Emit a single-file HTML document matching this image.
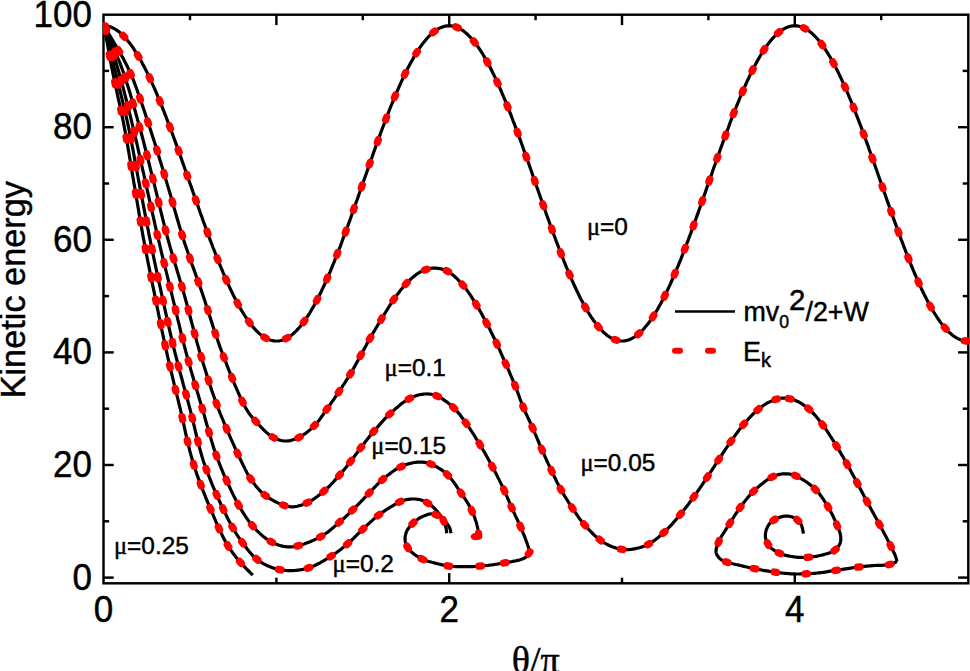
<!DOCTYPE html>
<html><head><meta charset="utf-8"><title>chart</title>
<style>
html,body{margin:0;padding:0;background:#fff;}
body{width:970px;height:671px;overflow:hidden;position:relative;font-family:"Liberation Sans",sans-serif;}
svg{position:absolute;left:0;top:0;display:block}
.k{fill:none;stroke:#000;stroke-width:3.2;stroke-linejoin:round;stroke-linecap:butt}
.r{fill:none;stroke:#ff0000;stroke-width:7.3;stroke-linecap:round}
.ax line,.ax rect{stroke:#000;stroke-width:2.45;fill:none}
text{font-family:"Liberation Sans",sans-serif;fill:#000;stroke:#000;stroke-width:0.45px}
.t32{font-size:35px}
.t21{font-size:24.4px}
.sym{font-family:"Liberation Serif",serif}
</style></head><body>
<svg width="970" height="671" viewBox="0 0 970 671">
<rect x="0" y="0" width="970" height="671" fill="#fff"/>
<g class="ax">
<rect x="103.5" y="14.7" width="864.8" height="568.6"/>
<line x1="190.0" y1="14.7" x2="190.0" y2="20.2"/>
<line x1="276.4" y1="14.7" x2="276.4" y2="25.1"/>
<line x1="276.4" y1="583.3" x2="276.4" y2="577.7"/>
<line x1="362.8" y1="14.7" x2="362.8" y2="20.2"/>
<line x1="449.2" y1="14.7" x2="449.2" y2="25.1"/>
<line x1="449.2" y1="583.3" x2="449.2" y2="573.1"/>
<line x1="535.6" y1="14.7" x2="535.6" y2="20.2"/>
<line x1="622.0" y1="14.7" x2="622.0" y2="25.1"/>
<line x1="622.0" y1="583.3" x2="622.0" y2="577.7"/>
<line x1="708.4" y1="14.7" x2="708.4" y2="20.2"/>
<line x1="794.8" y1="14.7" x2="794.8" y2="25.1"/>
<line x1="794.8" y1="583.3" x2="794.8" y2="573.1"/>
<line x1="881.2" y1="14.7" x2="881.2" y2="20.2"/>
<line x1="103.5" y1="577.6" x2="113.7" y2="577.6"/>
<line x1="968.3" y1="577.6" x2="958.1" y2="577.6"/>
<line x1="103.5" y1="521.3" x2="109.1" y2="521.3"/>
<line x1="968.3" y1="521.3" x2="962.7" y2="521.3"/>
<line x1="103.5" y1="465.0" x2="113.7" y2="465.0"/>
<line x1="968.3" y1="465.0" x2="958.1" y2="465.0"/>
<line x1="103.5" y1="408.7" x2="109.1" y2="408.7"/>
<line x1="968.3" y1="408.7" x2="962.7" y2="408.7"/>
<line x1="103.5" y1="352.4" x2="113.7" y2="352.4"/>
<line x1="968.3" y1="352.4" x2="958.1" y2="352.4"/>
<line x1="103.5" y1="296.1" x2="109.1" y2="296.1"/>
<line x1="968.3" y1="296.1" x2="962.7" y2="296.1"/>
<line x1="103.5" y1="239.8" x2="113.7" y2="239.8"/>
<line x1="968.3" y1="239.8" x2="958.1" y2="239.8"/>
<line x1="103.5" y1="183.5" x2="109.1" y2="183.5"/>
<line x1="968.3" y1="183.5" x2="962.7" y2="183.5"/>
<line x1="103.5" y1="127.2" x2="113.7" y2="127.2"/>
<line x1="968.3" y1="127.2" x2="958.1" y2="127.2"/>
<line x1="103.5" y1="70.9" x2="109.1" y2="70.9"/>
<line x1="968.3" y1="70.9" x2="962.7" y2="70.9"/>
</g>
<defs><clipPath id="cp"><rect x="102.9" y="14.7" width="868.0" height="568.6"/></clipPath></defs>
<g clip-path="url(#cp)">
<path d="M103.6 25.8 L105.0 25.8 L106.5 26.0 L107.9 26.2 L109.4 26.6 L110.8 27.1 L112.3 27.7 L113.7 28.4 L115.1 29.2 L116.6 30.1 L118.0 31.1 L119.5 32.3 L120.9 33.5 L122.4 34.8 L123.8 36.3 L125.2 37.8 L126.7 39.4 L128.1 41.2 L129.6 43.0 L131.0 44.9 L132.4 46.9 L133.9 49.1 L135.3 51.3 L136.8 53.6 L138.2 56.0 L139.7 58.4 L141.1 61.0 L142.5 63.7 L144.0 66.4 L145.4 69.2 L146.9 72.1 L148.3 75.0 L149.8 78.1 L151.2 81.2 L152.6 84.4 L154.1 87.6 L155.5 90.9 L157.0 94.3 L158.4 97.8 L159.9 101.3 L161.3 104.8 L162.7 108.4 L164.2 112.1 L165.6 115.8 L167.1 119.6 L168.5 123.4 L170.0 127.2 L171.4 131.1 L172.8 135.0 L174.3 139.0 L175.7 142.9 L177.2 146.9 L178.6 151.0 L180.0 155.0 L181.5 159.1 L182.9 163.2 L184.4 167.3 L185.8 171.4 L187.3 175.5 L188.7 179.7 L190.1 183.8 L191.6 187.9 L193.0 192.1 L194.5 196.2 L195.9 200.3 L197.4 204.4 L198.8 208.5 L200.2 212.6 L201.7 216.6 L203.1 220.7 L204.6 224.7 L206.0 228.6 L207.5 232.6 L208.9 236.5 L210.3 240.4 L211.8 244.2 L213.2 248.0 L214.7 251.7 L216.1 255.4 L217.5 259.1 L219.0 262.7 L220.4 266.2 L221.9 269.7 L223.3 273.2 L224.8 276.5 L226.2 279.8 L227.6 283.1 L229.1 286.2 L230.5 289.3 L232.0 292.4 L233.4 295.3 L234.9 298.2 L236.3 301.0 L237.7 303.7 L239.2 306.3 L240.6 308.9 L242.1 311.3 L243.5 313.7 L245.0 316.0 L246.4 318.2 L247.8 320.3 L249.3 322.3 L250.7 324.2 L252.2 326.0 L253.6 327.7 L255.1 329.3 L256.5 330.8 L257.9 332.2 L259.4 333.6 L260.8 334.8 L262.3 335.9 L263.7 336.9 L265.1 337.8 L266.6 338.5 L268.0 339.2 L269.5 339.8 L270.9 340.3 L272.4 340.6 L273.8 340.9 L275.2 341.0 L276.7 341.0 L278.1 341.0 L279.6 340.8 L281.0 340.5 L282.5 340.1 L283.9 339.6 L285.3 339.0 L286.8 338.2 L288.2 337.4 L289.7 336.5 L291.1 335.4 L292.6 334.3 L294.0 333.0 L295.4 331.7 L296.9 330.2 L298.3 328.7 L299.8 327.0 L301.2 325.3 L302.7 323.4 L304.1 321.5 L305.5 319.4 L307.0 317.3 L308.4 315.1 L309.9 312.8 L311.3 310.3 L312.7 307.9 L314.2 305.3 L315.6 302.6 L317.1 299.9 L318.5 297.0 L320.0 294.1 L321.4 291.2 L322.8 288.1 L324.3 285.0 L325.7 281.8 L327.2 278.5 L328.6 275.2 L330.1 271.8 L331.5 268.3 L332.9 264.8 L334.4 261.3 L335.8 257.6 L337.3 254.0 L338.7 250.3 L340.2 246.5 L341.6 242.7 L343.0 238.8 L344.5 234.9 L345.9 231.0 L347.4 227.1 L348.8 223.1 L350.3 219.1 L351.7 215.0 L353.1 211.0 L354.6 206.9 L356.0 202.8 L357.5 198.7 L358.9 194.6 L360.3 190.4 L361.8 186.3 L363.2 182.2 L364.7 178.0 L366.1 173.9 L367.6 169.8 L369.0 165.7 L370.4 161.6 L371.9 157.5 L373.3 153.4 L374.8 149.4 L376.2 145.3 L377.7 141.3 L379.1 137.4 L380.5 133.4 L382.0 129.5 L383.4 125.7 L384.9 121.8 L386.3 118.1 L387.8 114.3 L389.2 110.6 L390.6 107.0 L392.1 103.4 L393.5 99.9 L395.0 96.4 L396.4 93.0 L397.9 89.6 L399.3 86.3 L400.7 83.1 L402.2 79.9 L403.6 76.9 L405.1 73.8 L406.5 70.9 L407.9 68.1 L409.4 65.3 L410.8 62.6 L412.3 60.0 L413.7 57.4 L415.2 55.0 L416.6 52.6 L418.0 50.4 L419.5 48.2 L420.9 46.1 L422.4 44.1 L423.8 42.3 L425.3 40.5 L426.7 38.8 L428.1 37.2 L429.6 35.7 L431.0 34.3 L432.5 33.0 L433.9 31.8 L435.4 30.7 L436.8 29.8 L438.2 28.9 L439.7 28.1 L441.1 27.5 L442.6 26.9 L444.0 26.5 L445.4 26.1 L446.9 25.9 L448.3 25.8 L449.8 25.8 L451.2 25.9 L452.7 26.1 L454.1 26.4 L455.5 26.8 L457.0 27.3 L458.4 28.0 L459.9 28.7 L461.3 29.6 L462.8 30.5 L464.2 31.6 L465.6 32.8 L467.1 34.0 L468.5 35.4 L470.0 36.9 L471.4 38.4 L472.9 40.1 L474.3 41.9 L475.7 43.8 L477.2 45.7 L478.6 47.8 L480.1 49.9 L481.5 52.2 L483.0 54.5 L484.4 56.9 L485.8 59.5 L487.3 62.1 L488.7 64.7 L490.2 67.5 L491.6 70.3 L493.0 73.3 L494.5 76.2 L495.9 79.3 L497.4 82.5 L498.8 85.7 L500.3 88.9 L501.7 92.3 L503.1 95.7 L504.6 99.2 L506.0 102.7 L507.5 106.3 L508.9 109.9 L510.4 113.6 L511.8 117.3 L513.2 121.1 L514.7 124.9 L516.1 128.8 L517.6 132.6 L519.0 136.6 L520.5 140.5 L521.9 144.5 L523.3 148.6 L524.8 152.6 L526.2 156.7 L527.7 160.7 L529.1 164.8 L530.6 169.0 L532.0 173.1 L533.4 177.2 L534.9 181.3 L536.3 185.5 L537.8 189.6 L539.2 193.7 L540.6 197.8 L542.1 202.0 L543.5 206.1 L545.0 210.1 L546.4 214.2 L547.9 218.2 L549.3 222.3 L550.7 226.3 L552.2 230.2 L553.6 234.2 L555.1 238.0 L556.5 241.9 L558.0 245.7 L559.4 249.5 L560.8 253.2 L562.3 256.9 L563.7 260.5 L565.2 264.1 L566.6 267.6 L568.1 271.1 L569.5 274.5 L570.9 277.9 L572.4 281.1 L573.8 284.3 L575.3 287.5 L576.7 290.6 L578.2 293.5 L579.6 296.5 L581.0 299.3 L582.5 302.1 L583.9 304.7 L585.4 307.3 L586.8 309.9 L588.2 312.3 L589.7 314.6 L591.1 316.9 L592.6 319.0 L594.0 321.1 L595.5 323.0 L596.9 324.9 L598.3 326.7 L599.8 328.4 L601.2 329.9 L602.7 331.4 L604.1 332.8 L605.6 334.0 L607.0 335.2 L608.4 336.3 L609.9 337.2 L611.3 338.1 L612.8 338.8 L614.2 339.5 L615.7 340.0 L617.1 340.4 L618.5 340.7 L620.0 340.9 L621.4 341.0 L622.9 341.0 L624.3 340.9 L625.8 340.7 L627.2 340.3 L628.6 339.9 L630.1 339.3 L631.5 338.7 L633.0 337.9 L634.4 337.0 L635.8 336.1 L637.3 335.0 L638.7 333.8 L640.2 332.5 L641.6 331.1 L643.1 329.6 L644.5 328.0 L645.9 326.3 L647.4 324.5 L648.8 322.7 L650.3 320.7 L651.7 318.6 L653.2 316.4 L654.6 314.2 L656.0 311.8 L657.5 309.4 L658.9 306.8 L660.4 304.2 L661.8 301.5 L663.3 298.7 L664.7 295.9 L666.1 293.0 L667.6 289.9 L669.0 286.9 L670.5 283.7 L671.9 280.5 L673.3 277.2 L674.8 273.8 L676.2 270.4 L677.7 266.9 L679.1 263.4 L680.6 259.8 L682.0 256.2 L683.4 252.5 L684.9 248.7 L686.3 245.0 L687.8 241.1 L689.2 237.3 L690.7 233.4 L692.1 229.4 L693.5 225.5 L695.0 221.5 L696.4 217.4 L697.9 213.4 L699.3 209.3 L700.8 205.2 L702.2 201.1 L703.6 197.0 L705.1 192.9 L706.5 188.8 L708.0 184.6 L709.4 180.5 L710.9 176.4 L712.3 172.2 L713.7 168.1 L715.2 164.0 L716.6 159.9 L718.1 155.8 L719.5 151.8 L720.9 147.7 L722.4 143.7 L723.8 139.7 L725.3 135.8 L726.7 131.9 L728.2 128.0 L729.6 124.1 L731.0 120.3 L732.5 116.5 L733.9 112.8 L735.4 109.2 L736.8 105.5 L738.3 102.0 L739.7 98.5 L741.1 95.0 L742.6 91.6 L744.0 88.3 L745.5 85.0 L746.9 81.8 L748.4 78.7 L749.8 75.6 L751.2 72.7 L752.7 69.8 L754.1 66.9 L755.6 64.2 L757.0 61.5 L758.5 58.9 L759.9 56.5 L761.3 54.0 L762.8 51.7 L764.2 49.5 L765.7 47.4 L767.1 45.3 L768.5 43.4 L770.0 41.5 L771.4 39.8 L772.9 38.1 L774.3 36.6 L775.8 35.1 L777.2 33.8 L778.6 32.5 L780.1 31.4 L781.5 30.3 L783.0 29.4 L784.4 28.6 L785.9 27.8 L787.3 27.2 L788.7 26.7 L790.2 26.3 L791.6 26.0 L793.1 25.8 L794.5 25.8 L796.0 25.8 L797.4 25.9 L798.8 26.2 L800.3 26.5 L801.7 27.0 L803.2 27.6 L804.6 28.3 L806.1 29.0 L807.5 29.9 L808.9 30.9 L810.4 32.0 L811.8 33.2 L813.3 34.6 L814.7 36.0 L816.1 37.5 L817.6 39.1 L819.0 40.8 L820.5 42.6 L821.9 44.5 L823.4 46.5 L824.8 48.6 L826.2 50.8 L827.7 53.1 L829.1 55.5 L830.6 57.9 L832.0 60.5 L833.5 63.1 L834.9 65.8 L836.3 68.6 L837.8 71.5 L839.2 74.4 L840.7 77.5 L842.1 80.6 L843.6 83.7 L845.0 87.0 L846.4 90.3 L847.9 93.6 L849.3 97.1 L850.8 100.6 L852.2 104.1 L853.7 107.7 L855.1 111.4 L856.5 115.1 L858.0 118.8 L859.4 122.6 L860.9 126.4 L862.3 130.3 L863.7 134.2 L865.2 138.2 L866.6 142.1 L868.1 146.1 L869.5 150.2 L871.0 154.2 L872.4 158.3 L873.8 162.4 L875.3 166.5 L876.7 170.6 L878.2 174.7 L879.6 178.9 L881.1 183.0 L882.5 187.1 L883.9 191.3 L885.4 195.4 L886.8 199.5 L888.3 203.6 L889.7 207.7 L891.2 211.8 L892.6 215.8 L894.0 219.9 L895.5 223.9 L896.9 227.8 L898.4 231.8 L899.8 235.7 L901.2 239.6 L902.7 243.4 L904.1 247.2 L905.6 251.0 L907.0 254.7 L908.5 258.4 L909.9 262.0 L911.3 265.5 L912.8 269.0 L914.2 272.5 L915.7 275.9 L917.1 279.2 L918.6 282.4 L920.0 285.6 L921.4 288.7 L922.9 291.8 L924.3 294.7 L925.8 297.6 L927.2 300.4 L928.7 303.1 L930.1 305.8 L931.5 308.4 L933.0 310.8 L934.4 313.2 L935.9 315.5 L937.3 317.7 L938.8 319.9 L940.2 321.9 L941.6 323.8 L943.1 325.6 L944.5 327.4 L946.0 329.0 L947.4 330.5 L948.8 332.0 L950.3 333.3 L951.7 334.5 L953.2 335.7 L954.6 336.7 L956.1 337.6 L957.5 338.4 L958.9 339.1 L960.4 339.7 L961.8 340.2 L963.3 340.6 L964.7 340.8 L966.2 341.0 L967.6 341.0" class="k"/>
<path d="M104.1 25.8 L106.2 29.5 L108.4 33.2 L110.6 36.9 L112.8 40.5 L114.9 44.2 L117.1 47.8 L119.3 51.5 L121.4 55.3 L123.5 59.0 L125.5 62.9 L127.5 66.8 L129.3 70.8 L131.3 75.2 L133.2 79.7 L135.0 84.3 L136.7 89.0 L138.4 93.7 L140.1 98.4 L141.7 103.2 L143.3 108.0 L144.9 112.8 L146.4 117.6 L148.0 122.4 L149.6 127.1 L151.1 131.8 L152.6 136.5 L154.1 141.1 L155.6 145.8 L157.1 150.5 L158.5 155.2 L159.9 159.9 L161.4 164.6 L162.8 169.3 L164.2 174.0 L165.6 178.7 L167.0 183.4 L168.4 188.1 L169.8 192.8 L171.2 197.5 L172.5 202.2 L173.8 206.9 L175.2 211.6 L176.5 216.3 L177.9 221.0 L179.3 225.7 L180.7 230.3 L182.1 235.0 L183.6 239.7 L185.1 244.4 L186.7 249.1 L188.3 253.8 L190.0 258.5 L191.6 263.2 L193.3 267.9 L195.0 272.6 L196.6 277.2 L198.3 281.9 L200.0 286.6 L201.6 291.3 L203.2 296.0 L204.8 300.7 L206.3 305.4 L207.8 310.1 L209.3 314.8 L210.8 319.5 L212.3 324.2 L213.8 328.9 L215.4 333.6 L217.0 338.3 L218.6 343.0 L220.2 347.6 L222.0 352.3 L223.8 357.2 L225.8 362.2 L227.8 367.4 L229.9 372.7 L232.0 377.9 L234.1 383.1 L236.3 388.1 L238.4 392.9 L240.4 397.5 L242.4 401.6 L244.3 405.4 L246.1 408.6 L247.0 410.0 L247.8 411.4 L248.6 412.6 L249.3 413.7 L250.1 414.7 L250.8 415.7 L251.6 416.6 L252.3 417.5 L253.1 418.4 L254.0 419.4 L254.9 420.4 L255.8 421.4 L257.0 422.7 L258.2 424.1 L259.5 425.5 L260.9 427.0 L262.3 428.4 L263.7 429.8 L265.1 431.2 L266.6 432.6 L268.0 433.8 L269.5 435.0 L270.9 436.0 L272.3 436.9 L273.4 437.5 L274.5 438.1 L275.6 438.6 L276.7 439.1 L277.9 439.5 L279.0 439.9 L280.1 440.2 L281.2 440.5 L282.3 440.7 L283.5 440.9 L284.6 441.0 L285.7 441.0 L286.8 441.0 L287.9 440.9 L289.1 440.8 L290.2 440.6 L291.3 440.3 L292.4 440.0 L293.5 439.6 L294.7 439.2 L295.8 438.8 L296.9 438.3 L298.0 437.8 L299.1 437.3 L300.4 436.6 L301.7 435.9 L303.1 435.0 L304.4 434.1 L305.7 433.2 L307.0 432.2 L308.3 431.2 L309.6 430.1 L310.9 429.0 L312.1 427.9 L313.3 426.7 L314.5 425.6 L315.7 424.4 L316.8 423.1 L317.8 421.8 L318.9 420.5 L319.9 419.1 L320.9 417.7 L321.9 416.3 L322.9 414.9 L323.9 413.4 L324.9 412.0 L325.9 410.5 L326.9 409.1 L328.0 407.5 L329.1 406.0 L330.3 404.4 L331.4 402.7 L332.5 401.1 L333.7 399.5 L334.8 397.8 L335.9 396.2 L337.0 394.6 L338.1 392.9 L339.2 391.4 L340.2 389.8 L341.1 388.4 L342.0 387.1 L342.9 385.7 L343.8 384.4 L344.6 383.1 L345.5 381.8 L346.3 380.4 L347.2 379.1 L348.0 377.8 L348.8 376.5 L349.7 375.1 L350.5 373.7 L351.4 372.2 L352.3 370.7 L353.1 369.2 L354.0 367.6 L354.9 366.1 L355.7 364.5 L356.6 362.9 L357.4 361.4 L358.3 359.8 L359.1 358.3 L360.0 356.7 L360.8 355.2 L361.6 353.8 L362.4 352.3 L363.1 350.9 L363.9 349.5 L364.7 348.1 L365.4 346.7 L366.2 345.3 L366.9 343.9 L367.7 342.5 L368.5 341.1 L369.3 339.6 L370.1 338.2 L371.0 336.6 L371.9 335.1 L372.8 333.5 L373.7 331.9 L374.7 330.3 L375.6 328.7 L376.6 327.1 L377.5 325.5 L378.5 323.9 L379.5 322.3 L380.4 320.7 L381.4 319.1 L382.4 317.5 L383.4 315.8 L384.4 314.1 L385.4 312.5 L386.5 310.8 L387.5 309.1 L388.5 307.5 L389.6 305.8 L390.6 304.2 L391.7 302.6 L392.7 301.0 L393.8 299.5 L394.8 298.1 L395.8 296.7 L396.8 295.3 L397.8 293.9 L398.9 292.5 L399.9 291.1 L400.9 289.8 L402.0 288.5 L403.0 287.2 L404.1 285.9 L405.1 284.8 L406.2 283.6 L407.1 282.6 L408.1 281.7 L409.0 280.8 L410.0 279.8 L410.9 279.0 L411.9 278.1 L412.8 277.3 L413.8 276.5 L414.7 275.7 L415.7 275.0 L416.6 274.3 L417.5 273.7 L418.2 273.2 L418.9 272.8 L419.6 272.4 L420.3 272.0 L421.0 271.6 L421.7 271.3 L422.3 271.0 L423.0 270.7 L423.7 270.4 L424.4 270.1 L425.1 269.8 L425.8 269.6 L426.5 269.4 L427.1 269.2 L427.8 269.0 L428.4 268.8 L429.1 268.6 L429.8 268.5 L430.4 268.4 L431.1 268.3 L431.8 268.2 L432.5 268.1 L433.2 268.1 L434.0 268.1 L435.0 268.1 L436.1 268.2 L437.1 268.3 L438.3 268.4 L439.4 268.6 L440.5 268.8 L441.7 269.1 L442.9 269.4 L444.0 269.8 L445.2 270.2 L446.3 270.7 L447.4 271.2 L448.7 272.0 L450.1 272.8 L451.4 273.8 L452.8 274.9 L454.1 276.0 L455.4 277.2 L456.7 278.4 L458.0 279.7 L459.2 281.1 L460.5 282.4 L461.7 283.8 L462.9 285.1 L464.1 286.6 L465.3 288.1 L466.5 289.6 L467.7 291.2 L468.8 292.9 L470.0 294.5 L471.1 296.2 L472.1 297.9 L473.2 299.6 L474.3 301.3 L475.3 303.0 L476.3 304.6 L477.2 306.1 L478.2 307.7 L479.1 309.2 L479.9 310.8 L480.8 312.3 L481.7 313.9 L482.5 315.4 L483.3 317.0 L484.1 318.5 L485.0 320.1 L485.8 321.6 L486.6 323.2 L487.4 324.7 L488.2 326.3 L489.0 327.8 L489.8 329.3 L490.5 330.8 L491.3 332.4 L492.1 333.9 L492.8 335.5 L493.6 337.0 L494.4 338.6 L495.1 340.2 L495.9 341.8 L496.7 343.6 L497.6 345.4 L498.4 347.2 L499.2 349.0 L500.1 350.9 L500.9 352.8 L501.7 354.7 L502.5 356.5 L503.4 358.4 L504.2 360.3 L505.0 362.1 L505.8 364.0 L506.6 365.8 L507.4 367.6 L508.2 369.4 L509.0 371.2 L509.8 373.0 L510.5 374.9 L511.3 376.7 L512.1 378.5 L512.9 380.3 L513.6 382.1 L514.4 383.9 L515.1 385.7 L515.8 387.5 L516.5 389.3 L517.2 391.1 L517.9 392.9 L518.5 394.7 L519.2 396.5 L519.8 398.3 L520.5 400.2 L521.2 402.0 L521.9 403.7 L522.6 405.5 L523.3 407.3 L524.0 409.0 L524.8 410.8 L525.5 412.5 L526.3 414.2 L527.1 415.9 L527.9 417.6 L528.7 419.3 L529.5 421.0 L530.3 422.7 L531.0 424.4 L531.8 426.2 L532.6 427.9 L533.4 429.7 L534.2 431.5 L534.9 433.3 L535.7 435.1 L536.5 436.9 L537.2 438.7 L538.0 440.5 L538.8 442.4 L539.5 444.2 L540.3 446.0 L541.1 447.8 L541.9 449.6 L542.7 451.4 L543.5 453.2 L544.3 455.0 L545.1 456.8 L545.9 458.6 L546.7 460.4 L547.5 462.2 L548.3 463.9 L549.2 465.7 L550.0 467.4 L550.8 469.2 L551.6 470.9 L552.4 472.5 L553.1 474.1 L553.9 475.7 L554.6 477.2 L555.4 478.8 L556.1 480.3 L556.9 481.9 L557.7 483.4 L558.4 484.9 L559.2 486.4 L560.1 488.0 L560.9 489.5 L561.8 491.1 L562.7 492.6 L563.6 494.2 L564.5 495.8 L565.5 497.3 L566.4 498.9 L567.4 500.4 L568.3 501.9 L569.3 503.5 L570.3 505.0 L571.3 506.5 L572.3 508.0 L573.3 509.5 L574.3 510.9 L575.2 512.4 L576.2 513.8 L577.2 515.2 L578.2 516.7 L579.2 518.1 L580.2 519.5 L581.3 520.8 L582.4 522.2 L583.5 523.6 L584.6 524.9 L585.8 526.3 L587.0 527.6 L588.3 529.0 L589.6 530.4 L590.9 531.7 L592.2 533.0 L593.5 534.3 L594.8 535.6 L596.2 536.8 L597.5 537.9 L598.8 539.0 L600.1 540.0 L601.1 540.7 L602.2 541.5 L603.2 542.1 L604.2 542.8 L605.2 543.4 L606.3 543.9 L607.3 544.5 L608.3 545.0 L609.4 545.5 L610.4 545.9 L611.4 546.4 L612.5 546.8 L613.5 547.2 L614.5 547.5 L615.5 547.9 L616.6 548.2 L617.6 548.5 L618.6 548.7 L619.6 549.0 L620.7 549.2 L621.7 549.4 L622.7 549.5 L623.8 549.6 L624.8 549.7 L625.8 549.7 L626.9 549.7 L627.9 549.7 L629.0 549.6 L630.0 549.5 L631.0 549.4 L632.1 549.2 L633.1 549.1 L634.2 548.9 L635.2 548.7 L636.2 548.4 L637.2 548.2 L638.2 548.0 L639.1 547.7 L640.1 547.5 L641.0 547.2 L642.0 546.9 L642.9 546.6 L643.8 546.3 L644.8 545.9 L645.7 545.5 L646.7 545.1 L647.6 544.6 L648.6 544.1 L649.8 543.4 L651.1 542.6 L652.4 541.8 L653.7 540.9 L655.0 540.0 L656.3 539.0 L657.6 537.9 L658.9 536.9 L660.2 535.8 L661.5 534.7 L662.7 533.5 L664.0 532.4 L665.4 531.1 L666.8 529.7 L668.2 528.2 L669.7 526.7 L671.1 525.2 L672.5 523.6 L673.8 522.1 L675.2 520.5 L676.6 518.9 L677.9 517.3 L679.2 515.7 L680.5 514.2 L681.7 512.8 L682.9 511.3 L684.0 509.9 L685.1 508.4 L686.3 507.0 L687.4 505.6 L688.5 504.1 L689.5 502.6 L690.6 501.2 L691.7 499.7 L692.8 498.2 L693.9 496.7 L695.0 495.1 L696.2 493.5 L697.3 491.9 L698.5 490.2 L699.6 488.6 L700.7 486.9 L701.8 485.3 L702.9 483.6 L704.1 482.0 L705.1 480.3 L706.2 478.7 L707.3 477.1 L708.3 475.6 L709.3 474.1 L710.2 472.7 L711.2 471.2 L712.1 469.8 L713.0 468.3 L714.0 466.9 L714.9 465.4 L715.8 464.0 L716.8 462.5 L717.7 461.1 L718.7 459.6 L719.7 458.1 L720.7 456.6 L721.7 455.0 L722.7 453.5 L723.7 452.0 L724.7 450.5 L725.7 448.9 L726.8 447.4 L727.8 445.9 L728.8 444.4 L729.9 442.9 L730.9 441.4 L731.9 439.9 L733.0 438.5 L734.0 437.0 L735.0 435.6 L736.1 434.1 L737.1 432.7 L738.2 431.2 L739.3 429.8 L740.4 428.4 L741.5 427.0 L742.6 425.6 L743.7 424.3 L744.8 423.0 L746.0 421.7 L747.2 420.3 L748.4 419.0 L749.6 417.7 L750.8 416.4 L752.0 415.2 L753.2 413.9 L754.5 412.7 L755.7 411.6 L756.9 410.5 L758.1 409.5 L759.1 408.7 L760.1 407.9 L761.1 407.1 L762.1 406.4 L763.0 405.7 L764.0 405.0 L765.0 404.4 L766.0 403.8 L767.0 403.2 L768.0 402.6 L769.1 402.1 L770.1 401.6 L771.1 401.2 L772.1 400.7 L773.1 400.3 L774.2 399.9 L775.2 399.6 L776.2 399.3 L777.3 399.0 L778.3 398.7 L779.4 398.5 L780.4 398.3 L781.5 398.2 L782.5 398.1 L783.5 398.1 L784.5 398.1 L785.6 398.1 L786.6 398.2 L787.6 398.3 L788.7 398.5 L789.7 398.7 L790.7 398.9 L791.7 399.2 L792.8 399.5 L793.8 399.8 L794.8 400.2 L796.0 400.7 L797.1 401.2 L798.3 401.8 L799.5 402.4 L800.7 403.1 L801.9 403.8 L803.0 404.6 L804.2 405.4 L805.3 406.2 L806.5 407.1 L807.6 408.0 L808.7 408.9 L809.9 410.0 L811.2 411.2 L812.4 412.4 L813.6 413.6 L814.7 414.9 L815.9 416.3 L817.1 417.7 L818.2 419.1 L819.3 420.5 L820.5 422.0 L821.6 423.4 L822.7 424.9 L823.9 426.5 L825.1 428.2 L826.3 429.9 L827.5 431.7 L828.7 433.5 L829.8 435.3 L831.0 437.1 L832.1 438.9 L833.3 440.7 L834.4 442.5 L835.4 444.3 L836.5 446.0 L837.4 447.5 L838.4 449.1 L839.3 450.6 L840.2 452.1 L841.0 453.6 L841.9 455.1 L842.8 456.6 L843.6 458.1 L844.4 459.6 L845.3 461.1 L846.1 462.6 L847.0 464.1 L847.9 465.7 L848.7 467.2 L849.6 468.8 L850.5 470.4 L851.3 472.0 L852.2 473.6 L853.1 475.2 L853.9 476.8 L854.8 478.3 L855.6 479.9 L856.5 481.5 L857.3 483.1 L858.1 484.6 L858.9 486.2 L859.7 487.7 L860.5 489.2 L861.3 490.7 L862.1 492.2 L862.9 493.8 L863.7 495.3 L864.5 496.9 L865.3 498.4 L866.1 500.0 L867.0 501.6 L868.0 503.4 L869.0 505.3 L870.0 507.1 L871.0 509.0 L872.1 510.9 L873.1 512.8 L874.2 514.8 L875.3 516.7 L876.3 518.6 L877.4 520.5 L878.4 522.4 L879.4 524.3 L880.4 526.1 L881.4 528.0 L882.4 529.9 L883.4 531.8 L884.4 533.7 L885.4 535.6 L886.4 537.5 L887.3 539.3 L888.2 541.1 L889.1 542.8 L889.9 544.4 L890.7 546.0 L891.2 547.1 L891.8 548.1 L892.3 549.2 L892.8 550.2 L893.2 551.2 L893.7 552.2 L894.2 553.1 L894.6 554.0 L895.0 554.9 L895.3 555.8 L895.6 556.5 L895.9 557.3 L896.0 557.7 L896.2 558.1 L896.3 558.5 L896.4 558.9 L896.5 559.2 L896.5 559.6 L896.6 559.9 L896.7 560.2 L896.8 560.6 L896.8 560.9 L896.9 561.2 L897.0 561.6" class="k"/>
<path d="M897.0 561.6 L896.4 561.8 L895.8 562.1 L895.3 562.4 L894.7 562.6 L894.1 562.9 L893.6 563.2 L893.0 563.4 L892.4 563.7 L891.8 563.9 L891.1 564.1 L890.4 564.3 L889.7 564.5 L888.6 564.7 L887.3 564.9 L886.0 565.0 L884.7 565.1 L883.3 565.2 L881.8 565.3 L880.3 565.3 L878.9 565.3 L877.4 565.4 L876.0 565.4 L874.6 565.5 L873.2 565.6 L872.0 565.7 L870.8 565.8 L869.6 565.9 L868.4 566.0 L867.3 566.1 L866.1 566.2 L865.0 566.3 L863.8 566.4 L862.6 566.6 L861.4 566.7 L860.1 566.8 L858.8 567.0 L857.1 567.2 L855.3 567.5 L853.4 567.7 L851.5 568.0 L849.5 568.3 L847.5 568.6 L845.6 568.9 L843.6 569.2 L841.6 569.5 L839.7 569.8 L837.9 570.0 L836.1 570.3 L834.6 570.5 L833.2 570.8 L831.8 571.0 L830.3 571.2 L829.0 571.4 L827.6 571.7 L826.2 571.9 L824.9 572.1 L823.5 572.3 L822.2 572.5 L820.9 572.6 L819.6 572.8 L818.4 572.9 L817.3 573.0 L816.2 573.2 L815.1 573.3 L814.0 573.3 L812.9 573.4 L811.8 573.5 L810.7 573.6 L809.6 573.6 L808.5 573.7 L807.3 573.8 L806.2 573.8 L804.9 573.8 L803.7 573.9 L802.4 573.9 L801.1 573.9 L799.8 574.0 L798.5 574.0 L797.2 574.0 L795.9 574.0 L794.6 573.9 L793.3 573.9 L792.0 573.9 L790.7 573.8 L789.4 573.7 L788.2 573.6 L786.9 573.5 L785.6 573.4 L784.4 573.3 L783.1 573.2 L781.9 573.0 L780.6 572.9 L779.3 572.7 L778.0 572.6 L776.7 572.4 L775.3 572.2 L773.7 572.0 L772.0 571.7 L770.3 571.5 L768.5 571.2 L766.7 570.9 L764.9 570.6 L763.2 570.3 L761.4 570.0 L759.6 569.7 L757.9 569.3 L756.2 569.0 L754.6 568.7 L753.2 568.4 L751.9 568.1 L750.5 567.9 L749.2 567.6 L747.9 567.3 L746.6 567.0 L745.4 566.7 L744.1 566.4 L742.9 566.1 L741.6 565.8 L740.4 565.5 L739.2 565.2 L738.1 564.9 L737.0 564.7 L735.9 564.5 L734.8 564.2 L733.7 564.0 L732.7 563.8 L731.6 563.5 L730.6 563.3 L729.6 563.0 L728.6 562.7 L727.7 562.4 L726.8 562.1 L726.1 561.8 L725.4 561.6 L724.7 561.3 L724.1 561.1 L723.5 560.8 L722.8 560.5 L722.2 560.2 L721.6 559.9 L721.1 559.6 L720.6 559.2 L720.1 558.8 L719.6 558.4 L719.2 558.0 L718.8 557.5 L718.4 557.1 L718.0 556.6 L717.7 556.1 L717.3 555.6 L717.0 555.1 L716.8 554.5 L716.5 554.0 L716.4 553.4 L716.2 552.8 L716.1 552.2 L716.0 551.5 L716.0 550.7 L716.1 549.9 L716.2 549.1 L716.4 548.2 L716.6 547.4 L716.9 546.5 L717.2 545.6 L717.5 544.7 L717.8 543.8 L718.2 542.8 L718.6 541.9 L719.2 540.5 L720.0 539.0 L720.8 537.5 L721.7 536.0 L722.7 534.4 L723.7 532.8 L724.8 531.2 L725.8 529.5 L726.9 527.9 L727.9 526.4 L728.9 524.8 L729.9 523.3 L730.8 521.9 L731.6 520.6 L732.4 519.2 L733.3 517.9 L734.1 516.5 L734.9 515.2 L735.8 513.9 L736.6 512.6 L737.5 511.3 L738.3 510.0 L739.3 508.7 L740.2 507.4 L741.2 506.0 L742.2 504.7 L743.3 503.3 L744.3 501.9 L745.4 500.5 L746.5 499.2 L747.6 497.8 L748.7 496.5 L749.9 495.1 L751.1 493.8 L752.3 492.6 L753.6 491.3 L755.0 490.0 L756.5 488.6 L758.0 487.2 L759.5 485.9 L761.1 484.5 L762.8 483.2 L764.4 481.9 L766.0 480.7 L767.6 479.6 L769.2 478.6 L770.7 477.7 L772.2 476.9 L773.3 476.4 L774.3 476.0 L775.4 475.6 L776.4 475.2 L777.4 474.9 L778.4 474.6 L779.5 474.4 L780.5 474.2 L781.5 474.0 L782.5 473.9 L783.5 473.8 L784.5 473.8 L785.5 473.8 L786.4 473.8 L787.3 473.8 L788.3 473.9 L789.2 474.0 L790.1 474.2 L791.0 474.3 L792.0 474.6 L792.9 474.8 L793.9 475.1 L794.9 475.5 L795.9 475.9 L797.4 476.6 L799.0 477.4 L800.6 478.3 L802.3 479.3 L804.0 480.4 L805.8 481.5 L807.5 482.7 L809.2 484.0 L810.8 485.3 L812.4 486.6 L813.9 488.0 L815.3 489.3 L816.6 490.6 L817.8 491.9 L819.0 493.3 L820.1 494.7 L821.2 496.2 L822.2 497.7 L823.2 499.2 L824.2 500.7 L825.2 502.2 L826.1 503.7 L827.1 505.3 L828.0 506.8 L828.9 508.3 L829.8 509.9 L830.6 511.5 L831.5 513.1 L832.3 514.7 L833.1 516.3 L833.8 517.9 L834.6 519.5 L835.3 521.1 L835.9 522.6 L836.5 524.0 L837.1 525.4 L837.5 526.4 L837.9 527.3 L838.3 528.2 L838.6 529.1 L839.0 530.0 L839.3 530.8 L839.6 531.7 L839.9 532.5 L840.1 533.3 L840.3 534.1 L840.5 534.9 L840.6 535.7 L840.7 536.3 L840.7 537.0 L840.8 537.6 L840.8 538.2 L840.8 538.8 L840.8 539.4 L840.8 540.0 L840.7 540.6 L840.6 541.2 L840.5 541.8 L840.4 542.3 L840.2 542.9 L840.0 543.5 L839.7 544.2 L839.4 544.8 L839.0 545.5 L838.6 546.1 L838.2 546.7 L837.8 547.4 L837.3 548.0 L836.8 548.5 L836.2 549.1 L835.7 549.6 L835.1 550.1 L834.4 550.6 L833.6 551.1 L832.7 551.6 L831.8 552.0 L830.9 552.4 L829.9 552.7 L828.9 553.1 L827.9 553.4 L826.8 553.7 L825.8 554.0 L824.7 554.3 L823.7 554.6 L822.5 554.9 L821.3 555.2 L820.0 555.5 L818.7 555.8 L817.4 556.1 L816.1 556.3 L814.8 556.5 L813.5 556.7 L812.1 556.9 L810.8 557.1 L809.5 557.2 L808.2 557.3 L806.9 557.4 L805.6 557.4 L804.3 557.5 L803.0 557.5 L801.7 557.4 L800.4 557.4 L799.1 557.3 L797.8 557.3 L796.6 557.1 L795.3 557.0 L794.0 556.9 L792.8 556.7 L791.6 556.5 L790.5 556.3 L789.3 556.1 L788.1 555.9 L787.0 555.6 L785.8 555.4 L784.7 555.1 L783.6 554.7 L782.5 554.4 L781.4 554.0 L780.4 553.6 L779.4 553.2 L778.5 552.8 L777.6 552.4 L776.8 551.9 L775.9 551.4 L775.1 550.9 L774.3 550.4 L773.5 549.9 L772.7 549.3 L772.0 548.8 L771.3 548.2 L770.7 547.6 L770.1 547.0 L769.6 546.5 L769.2 545.9 L768.7 545.3 L768.3 544.7 L767.9 544.1 L767.6 543.5 L767.3 542.9 L767.0 542.3 L766.7 541.7 L766.4 541.1 L766.2 540.4 L766.0 539.8 L765.8 539.2 L765.7 538.6 L765.6 538.0 L765.5 537.4 L765.4 536.8 L765.4 536.2 L765.4 535.6 L765.4 535.0 L765.4 534.4 L765.4 533.8 L765.5 533.2 L765.6 532.6 L765.7 531.9 L765.9 531.2 L766.1 530.5 L766.3 529.7 L766.6 529.0 L766.9 528.3 L767.2 527.6 L767.5 526.9 L767.9 526.2 L768.3 525.5 L768.7 524.9 L769.1 524.3 L769.5 523.8 L769.9 523.3 L770.4 522.8 L770.9 522.3 L771.4 521.9 L771.9 521.4 L772.4 521.0 L772.9 520.6 L773.5 520.3 L774.1 519.9 L774.7 519.5 L775.3 519.2 L776.0 518.8 L776.8 518.4 L777.7 518.1 L778.5 517.7 L779.4 517.4 L780.3 517.1 L781.2 516.9 L782.1 516.6 L783.0 516.4 L783.9 516.3 L784.7 516.2 L785.6 516.1 L786.4 516.1 L787.2 516.1 L788.0 516.2 L788.8 516.2 L789.6 516.4 L790.4 516.5 L791.2 516.7 L792.0 516.9 L792.7 517.2 L793.4 517.5 L794.1 517.8 L794.8 518.1 L795.4 518.5 L796.0 518.9 L796.6 519.3 L797.2 519.8 L797.8 520.3 L798.3 520.8 L798.8 521.3 L799.3 521.9 L799.8 522.5 L800.2 523.1 L800.6 523.7 L801.0 524.3 L801.4 525.0 L801.7 525.7 L801.9 526.4 L802.1 527.2 L802.3 528.0 L802.5 528.8 L802.7 529.6 L802.8 530.4 L803.0 531.2 L803.1 532.0 L803.3 532.8 L803.5 533.6" class="k"/>
<path d="M104.1 25.8 L105.7 29.5 L107.3 33.2 L108.9 36.9 L110.5 40.6 L112.1 44.2 L113.6 47.9 L115.2 51.6 L116.8 55.3 L118.3 59.1 L119.9 62.9 L121.3 66.8 L122.8 70.8 L124.3 75.2 L125.8 79.8 L127.3 84.4 L128.8 89.0 L130.2 93.7 L131.6 98.5 L133.0 103.3 L134.3 108.0 L135.7 112.8 L137.0 117.6 L138.3 122.4 L139.6 127.1 L140.9 131.8 L142.2 136.5 L143.4 141.2 L144.6 145.8 L145.8 150.5 L147.0 155.2 L148.2 159.9 L149.4 164.6 L150.5 169.3 L151.7 174.0 L152.9 178.7 L154.1 183.4 L155.2 188.1 L156.4 192.8 L157.5 197.5 L158.7 202.2 L159.8 206.9 L160.9 211.6 L162.1 216.3 L163.2 221.0 L164.4 225.6 L165.6 230.3 L166.8 235.0 L168.1 239.7 L169.4 244.4 L170.7 249.1 L172.1 253.8 L173.4 258.5 L174.9 263.2 L176.3 267.9 L177.7 272.5 L179.1 277.2 L180.5 281.9 L181.9 286.6 L183.3 291.3 L184.6 296.0 L185.9 300.7 L187.2 305.4 L188.5 310.1 L189.7 314.8 L190.9 319.5 L192.1 324.2 L193.4 328.9 L194.6 333.6 L195.9 338.3 L197.1 342.9 L198.5 347.6 L199.8 352.3 L201.3 357.0 L202.7 361.7 L204.1 366.4 L205.6 371.1 L207.0 375.8 L208.5 380.5 L210.1 385.2 L211.6 389.9 L213.2 394.6 L214.9 399.3 L216.6 403.9 L218.3 408.6 L220.2 413.5 L222.3 418.5 L224.4 423.6 L226.6 428.9 L228.9 434.1 L231.1 439.2 L233.4 444.2 L235.5 449.0 L237.6 453.5 L239.6 457.7 L241.4 461.5 L243.0 464.9 L243.8 466.4 L244.5 467.8 L245.1 469.1 L245.7 470.3 L246.3 471.4 L246.8 472.5 L247.4 473.6 L248.0 474.6 L248.6 475.6 L249.2 476.7 L249.9 477.8 L250.7 478.9 L251.7 480.3 L252.7 481.7 L253.7 483.2 L254.8 484.6 L255.9 486.1 L257.1 487.5 L258.3 488.9 L259.6 490.3 L260.9 491.7 L262.3 493.0 L263.7 494.2 L265.2 495.4 L267.0 496.7 L268.8 497.9 L270.8 499.2 L272.9 500.4 L275.0 501.5 L277.2 502.6 L279.4 503.6 L281.6 504.5 L283.8 505.3 L285.9 505.9 L287.9 506.4 L289.9 506.7 L291.4 506.8 L293.0 506.8 L294.5 506.7 L296.0 506.5 L297.4 506.2 L298.9 505.8 L300.4 505.4 L301.8 504.9 L303.2 504.4 L304.6 503.8 L306.0 503.2 L307.4 502.6 L308.9 501.9 L310.3 501.2 L311.7 500.3 L313.1 499.5 L314.5 498.5 L315.9 497.5 L317.3 496.5 L318.6 495.5 L320.0 494.4 L321.3 493.4 L322.6 492.3 L323.9 491.2 L325.2 490.1 L326.5 488.9 L327.7 487.7 L329.0 486.5 L330.2 485.3 L331.4 484.0 L332.6 482.8 L333.8 481.5 L335.0 480.2 L336.1 478.9 L337.3 477.7 L338.4 476.4 L339.5 475.2 L340.6 473.9 L341.6 472.7 L342.6 471.4 L343.7 470.2 L344.7 468.9 L345.7 467.7 L346.7 466.4 L347.7 465.1 L348.7 463.9 L349.6 462.6 L350.6 461.4 L351.5 460.2 L352.4 459.1 L353.2 457.9 L354.1 456.8 L354.9 455.7 L355.7 454.5 L356.6 453.4 L357.4 452.3 L358.3 451.1 L359.1 449.9 L360.0 448.8 L360.9 447.6 L361.9 446.3 L362.9 445.0 L363.9 443.7 L365.0 442.3 L366.0 441.0 L367.1 439.6 L368.1 438.3 L369.2 436.9 L370.3 435.6 L371.4 434.2 L372.6 432.9 L373.7 431.5 L374.9 430.0 L376.2 428.6 L377.5 427.1 L378.8 425.6 L380.1 424.1 L381.4 422.6 L382.8 421.1 L384.1 419.7 L385.5 418.2 L386.9 416.8 L388.3 415.4 L389.8 414.0 L391.3 412.6 L392.9 411.2 L394.5 409.7 L396.1 408.3 L397.8 406.9 L399.4 405.5 L401.1 404.1 L402.8 402.8 L404.5 401.6 L406.1 400.5 L407.8 399.5 L409.4 398.6 L410.7 398.0 L412.0 397.3 L413.3 396.8 L414.6 396.3 L415.9 395.8 L417.2 395.4 L418.5 395.0 L419.8 394.7 L421.1 394.5 L422.3 394.3 L423.6 394.1 L424.8 394.0 L425.9 394.0 L426.9 393.9 L428.0 394.0 L429.0 394.0 L430.0 394.1 L431.0 394.3 L432.1 394.5 L433.1 394.7 L434.1 395.0 L435.1 395.3 L436.2 395.7 L437.2 396.1 L438.6 396.7 L439.9 397.4 L441.4 398.2 L442.8 399.1 L444.2 400.1 L445.6 401.1 L447.1 402.1 L448.5 403.2 L449.8 404.4 L451.2 405.5 L452.5 406.7 L453.7 407.8 L454.9 408.9 L456.0 410.1 L457.1 411.3 L458.1 412.6 L459.2 413.8 L460.2 415.1 L461.2 416.4 L462.1 417.8 L463.1 419.1 L464.1 420.5 L465.1 421.9 L466.1 423.3 L467.2 424.9 L468.4 426.5 L469.5 428.2 L470.6 429.9 L471.8 431.6 L472.9 433.3 L474.0 435.0 L475.1 436.8 L476.2 438.6 L477.3 440.3 L478.4 442.1 L479.5 443.9 L480.6 445.7 L481.7 447.6 L482.8 449.5 L483.9 451.3 L485.0 453.2 L486.0 455.1 L487.1 457.0 L488.1 458.9 L489.2 460.8 L490.2 462.8 L491.3 464.7 L492.3 466.6 L493.3 468.6 L494.4 470.5 L495.4 472.6 L496.5 474.6 L497.5 476.6 L498.5 478.6 L499.5 480.6 L500.5 482.6 L501.5 484.6 L502.4 486.5 L503.3 488.4 L504.2 490.3 L504.9 491.8 L505.6 493.3 L506.2 494.8 L506.8 496.2 L507.4 497.6 L508.0 499.0 L508.6 500.4 L509.2 501.8 L509.7 503.2 L510.3 504.6 L511.0 506.0 L511.6 507.5 L512.3 509.1 L513.0 510.7 L513.8 512.3 L514.6 513.9 L515.3 515.6 L516.1 517.2 L516.9 518.8 L517.7 520.5 L518.4 522.1 L519.1 523.6 L519.8 525.2 L520.5 526.7 L521.0 528.0 L521.6 529.2 L522.1 530.5 L522.6 531.7 L523.1 533.0 L523.6 534.2 L524.1 535.4 L524.6 536.6 L525.0 537.8 L525.5 538.9 L525.9 540.1 L526.3 541.2 L526.6 542.2 L527.0 543.1 L527.3 544.0 L527.6 544.9 L527.9 545.8 L528.2 546.7 L528.5 547.6 L528.7 548.5 L529.0 549.3 L529.3 550.2 L529.6 551.1 L529.9 552.0" class="k"/>
<path d="M529.9 552.0 L529.5 552.5 L529.1 553.0 L528.8 553.5 L528.4 554.0 L528.1 554.5 L527.7 555.0 L527.4 555.5 L527.0 556.0 L526.5 556.5 L526.1 557.0 L525.5 557.4 L524.9 557.8 L523.7 558.4 L522.4 559.0 L520.9 559.5 L519.4 560.0 L517.7 560.4 L515.9 560.8 L514.0 561.1 L512.1 561.5 L510.3 561.8 L508.4 562.1 L506.5 562.5 L504.7 562.8 L502.7 563.2 L500.7 563.5 L498.6 563.8 L496.5 564.2 L494.4 564.5 L492.3 564.8 L490.2 565.0 L488.1 565.3 L486.0 565.5 L484.0 565.7 L482.0 565.9 L480.1 566.1 L478.5 566.2 L477.0 566.3 L475.5 566.4 L474.1 566.5 L472.6 566.6 L471.2 566.6 L469.7 566.7 L468.3 566.7 L466.9 566.7 L465.6 566.7 L464.2 566.7 L462.8 566.7 L461.6 566.7 L460.3 566.7 L459.1 566.7 L457.9 566.6 L456.7 566.6 L455.5 566.6 L454.3 566.5 L453.1 566.5 L452.0 566.4 L450.8 566.3 L449.6 566.1 L448.4 566.0 L447.2 565.8 L446.0 565.6 L444.7 565.4 L443.5 565.1 L442.3 564.9 L441.1 564.6 L439.9 564.3 L438.7 564.0 L437.5 563.7 L436.3 563.4 L435.1 563.1 L434.0 562.8 L433.0 562.5 L432.0 562.3 L431.0 562.0 L430.0 561.8 L429.0 561.5 L428.0 561.2 L427.1 560.9 L426.1 560.6 L425.2 560.3 L424.2 560.0 L423.3 559.6 L422.4 559.2 L421.5 558.8 L420.6 558.3 L419.7 557.8 L418.8 557.3 L417.9 556.7 L417.0 556.2 L416.1 555.6 L415.3 555.0 L414.5 554.5 L413.7 553.9 L413.0 553.3 L412.3 552.7 L411.8 552.2 L411.3 551.8 L410.8 551.3 L410.3 550.9 L409.9 550.4 L409.5 549.9 L409.0 549.4 L408.7 549.0 L408.3 548.5 L407.9 548.0 L407.6 547.4 L407.3 546.9 L407.0 546.4 L406.7 545.8 L406.5 545.2 L406.2 544.6 L406.0 544.0 L405.8 543.4 L405.6 542.8 L405.5 542.2 L405.3 541.6 L405.2 540.9 L405.2 540.3 L405.1 539.7 L405.1 539.1 L405.1 538.4 L405.1 537.7 L405.1 537.1 L405.2 536.4 L405.3 535.8 L405.5 535.1 L405.6 534.4 L405.8 533.8 L406.0 533.1 L406.2 532.4 L406.5 531.8 L406.8 531.0 L407.2 530.3 L407.7 529.5 L408.2 528.8 L408.7 528.0 L409.3 527.3 L409.8 526.5 L410.4 525.8 L411.1 525.1 L411.7 524.4 L412.3 523.7 L413.0 523.1 L413.7 522.5 L414.4 521.8 L415.1 521.2 L415.9 520.6 L416.7 520.0 L417.5 519.5 L418.3 518.9 L419.1 518.4 L419.9 517.9 L420.7 517.4 L421.6 517.0 L422.4 516.6 L423.2 516.2 L424.0 515.9 L424.9 515.5 L425.8 515.2 L426.6 514.9 L427.5 514.6 L428.4 514.3 L429.2 514.1 L430.1 514.0 L430.9 513.9 L431.7 513.8 L432.5 513.8 L433.2 513.9 L433.8 514.0 L434.4 514.1 L435.1 514.3 L435.7 514.5 L436.3 514.8 L436.9 515.0 L437.5 515.3 L438.0 515.6 L438.6 515.9 L439.2 516.3 L439.7 516.6 L440.2 516.9 L440.8 517.3 L441.3 517.7 L441.8 518.1 L442.3 518.5 L442.8 518.9 L443.3 519.4 L443.7 519.8 L444.2 520.3 L444.6 520.8 L445.1 521.2 L445.5 521.7 L445.9 522.2 L446.3 522.6 L446.7 523.1 L447.0 523.5 L447.4 524.0 L447.7 524.5 L448.1 525.0 L448.4 525.5 L448.7 526.0 L449.0 526.5 L449.3 527.0 L449.5 527.5 L449.7 528.0 L449.9 528.4 L450.0 528.9 L450.2 529.4 L450.3 529.8 L450.4 530.3 L450.5 530.8 L450.6 531.3 L450.7 531.8 L450.8 532.2 L450.9 532.7 L451.0 533.2" class="k"/>
<path d="M104.1 25.8 L105.3 29.5 L106.5 33.2 L107.7 36.9 L108.9 40.6 L110.2 44.3 L111.4 47.9 L112.6 51.6 L113.8 55.4 L115.0 59.2 L116.1 63.0 L117.3 66.9 L118.5 70.8 L119.7 75.3 L121.0 79.8 L122.2 84.4 L123.5 89.1 L124.7 93.8 L125.9 98.5 L127.1 103.3 L128.3 108.1 L129.5 112.9 L130.7 117.6 L131.8 122.4 L133.0 127.1 L134.1 131.8 L135.2 136.5 L136.3 141.2 L137.4 145.9 L138.4 150.5 L139.5 155.2 L140.5 159.9 L141.6 164.6 L142.6 169.3 L143.7 174.0 L144.7 178.7 L145.8 183.4 L146.8 188.1 L147.9 192.8 L148.9 197.5 L150.0 202.2 L151.0 206.9 L152.1 211.6 L153.1 216.2 L154.2 220.9 L155.2 225.6 L156.3 230.3 L157.4 235.0 L158.5 239.7 L159.6 244.4 L160.7 249.1 L161.8 253.8 L163.0 258.5 L164.1 263.2 L165.3 267.9 L166.4 272.5 L167.6 277.2 L168.7 281.9 L169.9 286.6 L171.1 291.3 L172.2 296.0 L173.3 300.7 L174.5 305.4 L175.6 310.1 L176.7 314.8 L177.8 319.5 L179.0 324.2 L180.1 328.9 L181.2 333.6 L182.4 338.2 L183.6 342.9 L184.8 347.6 L186.0 352.3 L187.3 357.0 L188.6 361.7 L189.9 366.4 L191.2 371.1 L192.6 375.8 L193.9 380.5 L195.3 385.2 L196.7 389.9 L198.1 394.5 L199.5 399.2 L200.9 403.9 L202.3 408.6 L203.7 413.3 L205.0 418.0 L206.3 422.7 L207.7 427.5 L209.0 432.2 L210.4 436.9 L211.8 441.6 L213.2 446.3 L214.7 451.0 L216.4 455.6 L218.1 460.3 L219.9 464.9 L221.9 469.8 L224.0 474.8 L226.3 479.9 L228.6 485.0 L231.0 490.1 L233.4 495.1 L235.9 500.1 L238.5 504.8 L241.1 509.4 L243.7 513.7 L246.3 517.6 L248.8 521.2 L250.6 523.5 L252.4 525.7 L254.3 527.8 L256.1 529.8 L258.0 531.7 L259.8 533.4 L261.7 535.1 L263.6 536.7 L265.5 538.1 L267.4 539.5 L269.4 540.7 L271.3 541.8 L272.9 542.6 L274.5 543.4 L276.0 544.1 L277.6 544.7 L279.2 545.3 L280.8 545.7 L282.4 546.1 L284.0 546.5 L285.7 546.7 L287.4 546.9 L289.1 546.9 L290.9 546.9 L293.2 546.7 L295.6 546.3 L298.2 545.8 L300.8 545.1 L303.4 544.3 L306.0 543.3 L308.7 542.3 L311.3 541.2 L313.8 540.1 L316.3 538.9 L318.6 537.8 L320.8 536.6 L322.6 535.6 L324.3 534.5 L326.0 533.3 L327.6 532.2 L329.2 530.9 L330.7 529.7 L332.2 528.4 L333.7 527.2 L335.2 525.9 L336.6 524.6 L338.0 523.4 L339.4 522.2 L340.6 521.2 L341.8 520.2 L342.9 519.2 L344.0 518.2 L345.1 517.2 L346.2 516.2 L347.2 515.2 L348.3 514.2 L349.4 513.1 L350.5 512.1 L351.6 511.0 L352.7 509.9 L354.0 508.6 L355.4 507.2 L356.8 505.8 L358.2 504.4 L359.6 503.0 L361.0 501.5 L362.4 500.1 L363.8 498.6 L365.2 497.2 L366.5 495.7 L367.9 494.3 L369.2 493.0 L370.4 491.8 L371.5 490.7 L372.6 489.5 L373.6 488.4 L374.7 487.2 L375.8 486.1 L376.8 485.0 L377.9 483.9 L379.0 482.8 L380.2 481.7 L381.4 480.7 L382.6 479.6 L384.0 478.4 L385.4 477.2 L386.9 476.0 L388.4 474.8 L390.0 473.6 L391.5 472.5 L393.1 471.3 L394.7 470.2 L396.3 469.2 L397.9 468.3 L399.5 467.4 L401.1 466.6 L402.5 466.0 L404.0 465.4 L405.5 464.8 L407.0 464.3 L408.5 463.9 L410.0 463.5 L411.5 463.1 L413.0 462.8 L414.5 462.5 L415.9 462.3 L417.3 462.2 L418.7 462.1 L419.8 462.1 L420.9 462.1 L421.9 462.1 L422.9 462.2 L423.9 462.3 L424.9 462.4 L425.9 462.6 L426.9 462.8 L427.9 463.1 L428.9 463.4 L430.0 463.7 L431.0 464.1 L432.3 464.7 L433.7 465.3 L435.1 466.0 L436.5 466.7 L438.0 467.6 L439.4 468.5 L440.8 469.4 L442.2 470.4 L443.6 471.4 L444.9 472.5 L446.2 473.6 L447.5 474.8 L448.9 476.2 L450.2 477.7 L451.6 479.4 L452.9 481.1 L454.2 482.9 L455.5 484.7 L456.7 486.5 L457.9 488.3 L459.0 490.0 L460.1 491.6 L461.1 493.1 L462.0 494.5 L462.5 495.3 L463.0 496.0 L463.5 496.6 L464.0 497.3 L464.4 497.9 L464.8 498.5 L465.2 499.1 L465.6 499.7 L466.0 500.3 L466.4 500.9 L466.8 501.5 L467.2 502.2 L467.6 502.9 L468.1 503.7 L468.5 504.5 L469.0 505.2 L469.4 506.0 L469.8 506.8 L470.2 507.6 L470.7 508.4 L471.1 509.2 L471.4 510.0 L471.8 510.8 L472.2 511.6 L472.5 512.4 L472.9 513.2 L473.2 513.9 L473.5 514.7 L473.9 515.5 L474.2 516.3 L474.5 517.1 L474.7 517.9 L475.0 518.7 L475.3 519.4 L475.5 520.2 L475.8 521.0 L476.0 521.7 L476.3 522.5 L476.5 523.2 L476.7 523.9 L476.9 524.7 L477.1 525.4 L477.2 526.1 L477.4 526.8 L477.6 527.5 L477.7 528.2 L477.9 528.9 L478.0 529.6 L478.1 530.2 L478.2 530.7 L478.3 531.3 L478.3 531.8 L478.4 532.4 L478.4 532.9 L478.5 533.4 L478.5 534.0 L478.6 534.5 L478.6 535.0 L478.6 535.6 L478.7 536.1" class="k"/>
<path d="M104.1 25.8 L105.0 29.5 L106.0 33.2 L106.9 36.9 L107.8 40.6 L108.7 44.3 L109.6 48.0 L110.5 51.7 L111.4 55.4 L112.4 59.2 L113.3 63.0 L114.2 66.9 L115.2 70.8 L116.3 75.3 L117.4 79.8 L118.5 84.4 L119.6 89.1 L120.8 93.8 L121.9 98.5 L123.1 103.3 L124.2 108.1 L125.3 112.9 L126.4 117.6 L127.5 122.4 L128.5 127.1 L129.5 131.8 L130.4 136.5 L131.3 141.2 L132.2 145.8 L133.1 150.5 L134.0 155.2 L134.8 159.9 L135.7 164.6 L136.6 169.3 L137.4 174.0 L138.3 178.7 L139.2 183.4 L140.1 188.1 L141.0 192.8 L141.9 197.5 L142.8 202.2 L143.7 206.9 L144.6 211.6 L145.5 216.2 L146.4 220.9 L147.3 225.6 L148.2 230.3 L149.1 235.0 L150.1 239.7 L151.0 244.4 L152.0 249.1 L153.0 253.8 L153.9 258.5 L154.9 263.2 L155.9 267.9 L156.9 272.6 L157.9 277.2 L158.9 281.9 L160.0 286.6 L161.0 291.3 L162.0 296.0 L163.0 300.7 L164.1 305.4 L165.1 310.1 L166.2 314.8 L167.2 319.5 L168.3 324.2 L169.3 328.9 L170.4 333.6 L171.5 338.2 L172.6 342.9 L173.7 347.6 L174.9 352.3 L176.1 357.0 L177.3 361.7 L178.5 366.4 L179.7 371.1 L181.0 375.8 L182.3 380.5 L183.5 385.2 L184.8 389.8 L186.1 394.5 L187.4 399.2 L188.6 403.9 L189.9 408.6 L191.1 413.3 L192.3 418.0 L193.4 422.7 L194.5 427.4 L195.6 432.1 L196.7 436.8 L197.9 441.5 L199.1 446.2 L200.4 450.9 L201.7 455.6 L203.1 460.3 L204.7 464.9 L206.4 469.7 L208.3 474.7 L210.3 479.7 L212.3 484.8 L214.5 489.9 L216.7 494.9 L218.9 499.8 L221.0 504.5 L223.2 509.1 L225.3 513.4 L227.3 517.5 L229.2 521.2 L230.4 523.4 L231.5 525.5 L232.6 527.5 L233.7 529.4 L234.8 531.2 L235.8 533.0 L236.9 534.7 L238.0 536.3 L239.1 537.9 L240.2 539.6 L241.3 541.2 L242.5 542.8 L243.6 544.3 L244.8 545.8 L245.9 547.3 L247.0 548.8 L248.2 550.3 L249.4 551.7 L250.6 553.1 L251.8 554.5 L253.1 555.8 L254.3 557.0 L255.6 558.2 L256.9 559.3 L258.1 560.2 L259.3 561.1 L260.5 561.9 L261.7 562.7 L263.0 563.4 L264.2 564.1 L265.5 564.7 L266.8 565.4 L268.1 565.9 L269.4 566.5 L270.7 567.0 L272.0 567.5 L273.3 567.9 L274.5 568.4 L275.8 568.7 L277.1 569.1 L278.4 569.4 L279.7 569.7 L281.0 569.9 L282.3 570.1 L283.7 570.3 L285.0 570.4 L286.4 570.5 L287.8 570.6 L289.4 570.6 L291.1 570.6 L292.8 570.6 L294.5 570.5 L296.2 570.3 L298.0 570.1 L299.7 569.9 L301.5 569.6 L303.3 569.3 L305.0 568.9 L306.8 568.4 L308.5 567.9 L310.4 567.3 L312.3 566.5 L314.3 565.7 L316.2 564.8 L318.2 563.8 L320.1 562.8 L322.0 561.7 L323.9 560.6 L325.8 559.5 L327.6 558.4 L329.4 557.3 L331.1 556.2 L332.6 555.2 L334.1 554.3 L335.5 553.3 L336.9 552.3 L338.3 551.2 L339.7 550.2 L341.0 549.2 L342.4 548.1 L343.7 547.1 L345.0 546.0 L346.3 544.9 L347.6 543.8 L348.9 542.7 L350.1 541.6 L351.3 540.5 L352.5 539.3 L353.7 538.2 L354.8 537.0 L356.0 535.9 L357.2 534.7 L358.4 533.5 L359.6 532.3 L360.8 531.2 L362.0 530.0 L363.3 528.8 L364.7 527.5 L366.0 526.2 L367.4 524.9 L368.7 523.6 L370.1 522.3 L371.5 521.1 L372.9 519.8 L374.3 518.6 L375.7 517.4 L377.1 516.2 L378.5 515.1 L379.9 514.1 L381.3 513.1 L382.7 512.1 L384.2 511.1 L385.6 510.1 L387.1 509.2 L388.5 508.3 L389.9 507.4 L391.3 506.6 L392.6 505.8 L393.8 505.1 L395.0 504.4 L395.7 504.0 L396.3 503.6 L396.9 503.3 L397.5 502.9 L398.1 502.6 L398.7 502.3 L399.2 502.0 L399.8 501.8 L400.3 501.5 L400.9 501.3 L401.6 501.0 L402.2 500.8 L403.0 500.6 L403.8 500.3 L404.6 500.1 L405.4 499.9 L406.3 499.7 L407.2 499.6 L408.0 499.4 L408.9 499.3 L409.8 499.2 L410.6 499.1 L411.5 499.0 L412.3 499.0 L413.0 499.0 L413.8 499.0 L414.5 499.0 L415.3 499.0 L416.0 499.1 L416.7 499.2 L417.5 499.3 L418.2 499.4 L418.9 499.5 L419.6 499.6 L420.3 499.8 L421.0 500.0 L421.7 500.2 L422.4 500.4 L423.0 500.7 L423.7 500.9 L424.4 501.2 L425.0 501.5 L425.7 501.8 L426.3 502.2 L427.0 502.5 L427.6 502.9 L428.3 503.3 L428.9 503.7 L429.6 504.2 L430.3 504.7 L431.0 505.2 L431.7 505.8 L432.3 506.4 L433.0 507.0 L433.7 507.7 L434.3 508.3 L435.0 508.9 L435.6 509.6 L436.2 510.3 L436.8 510.9 L437.4 511.5 L437.9 512.2 L438.4 512.8 L439.0 513.4 L439.5 514.1 L440.0 514.8 L440.4 515.4 L440.9 516.1 L441.4 516.8 L441.8 517.4 L442.2 518.1 L442.6 518.8 L442.9 519.4 L443.3 520.1 L443.6 520.8 L443.9 521.4 L444.2 522.1 L444.5 522.8 L444.7 523.4 L445.0 524.1 L445.2 524.7 L445.4 525.4 L445.6 526.1 L445.8 526.7 L445.9 527.3 L446.1 527.8 L446.2 528.4 L446.2 528.9 L446.3 529.4 L446.4 530.0 L446.4 530.5 L446.5 531.0 L446.5 531.6 L446.6 532.1 L446.6 532.7 L446.7 533.2" class="k"/>
<path d="M104.1 25.8 L104.8 29.5 L105.5 33.2 L106.1 36.9 L106.8 40.6 L107.5 44.3 L108.1 48.0 L108.8 51.7 L109.5 55.4 L110.2 59.2 L110.9 63.0 L111.6 66.9 L112.4 70.8 L113.3 75.3 L114.3 79.8 L115.3 84.4 L116.3 89.1 L117.3 93.8 L118.3 98.6 L119.4 103.3 L120.4 108.1 L121.4 112.9 L122.4 117.6 L123.4 122.4 L124.3 127.1 L125.2 131.8 L126.1 136.5 L126.9 141.2 L127.7 145.9 L128.5 150.5 L129.3 155.2 L130.1 159.9 L130.9 164.6 L131.6 169.3 L132.4 174.0 L133.2 178.7 L134.0 183.4 L134.8 188.1 L135.6 192.8 L136.4 197.5 L137.2 202.2 L138.0 206.9 L138.8 211.6 L139.5 216.3 L140.4 220.9 L141.2 225.6 L142.0 230.3 L142.8 235.0 L143.7 239.7 L144.6 244.4 L145.5 249.1 L146.4 253.8 L147.3 258.5 L148.2 263.2 L149.2 267.9 L150.1 272.6 L151.1 277.2 L152.0 281.9 L153.0 286.6 L154.0 291.3 L154.9 296.0 L155.9 300.7 L156.8 305.4 L157.8 310.1 L158.7 314.8 L159.7 319.5 L160.7 324.2 L161.6 328.9 L162.6 333.5 L163.6 338.2 L164.6 342.9 L165.6 347.6 L166.7 352.3 L167.7 357.0 L168.8 361.7 L169.9 366.4 L171.0 371.1 L172.2 375.8 L173.3 380.5 L174.4 385.2 L175.6 389.8 L176.7 394.5 L177.9 399.2 L179.0 403.9 L180.2 408.6 L181.3 413.3 L182.3 418.0 L183.4 422.7 L184.4 427.4 L185.4 432.1 L186.5 436.8 L187.6 441.5 L188.7 446.2 L189.8 450.9 L191.1 455.6 L192.4 460.2 L193.8 464.9 L195.4 469.7 L197.0 474.6 L198.8 479.6 L200.7 484.6 L202.6 489.6 L204.6 494.6 L206.5 499.5 L208.5 504.2 L210.4 508.8 L212.3 513.2 L214.1 517.3 L215.7 521.2 L216.8 523.7 L217.9 526.0 L218.9 528.3 L219.9 530.5 L220.9 532.6 L221.9 534.6 L222.8 536.6 L223.8 538.5 L224.8 540.4 L225.9 542.3 L226.9 544.1 L228.0 545.9 L229.0 547.4 L230.0 548.9 L231.0 550.4 L232.0 551.8 L233.0 553.2 L234.0 554.6 L235.1 556.0 L236.1 557.3 L237.2 558.6 L238.3 559.9 L239.3 561.1 L240.4 562.4 L241.4 563.6 L242.4 564.7 L243.4 565.8 L244.5 566.8 L245.5 567.9 L246.5 569.0 L247.6 570.0 L248.6 571.0 L249.7 572.1 L250.7 573.1 L251.8 574.1 L252.8 575.2" class="k"/>
<path d="M103.6 25.8 L105.3 25.8 M122.8 35.3 L124.7 37.3 M137.5 54.7 L138.9 57.2 M149.2 76.8 L150.4 79.4 M159.3 99.9 L160.4 102.6 M169.4 125.9 L170.5 128.6 M178.1 149.6 L179.1 152.3 M186.8 174.2 L187.7 176.9 M195.4 199.0 L196.4 201.7 M207.0 231.2 L208.0 233.9 M217.0 257.8 L218.1 260.4 M225.6 278.5 L226.8 281.1 M237.1 302.4 L238.4 304.9 M248.5 321.1 L250.1 323.4 M264.0 337.1 L266.3 338.4 M285.6 338.8 L287.9 337.6 M303.3 322.6 L304.9 320.3 M316.4 301.1 L317.7 298.6 M326.6 279.8 L327.7 277.2 M336.7 255.3 L337.8 252.6 M345.2 232.9 L346.2 230.2 M353.4 210.3 L354.3 207.6 M361.3 187.7 L362.3 185.0 M369.2 165.0 L370.2 162.3 M377.3 142.4 L378.3 139.7 M385.6 119.9 L386.6 117.2 M394.4 97.7 L395.5 95.1 M404.4 75.1 L405.7 72.6 M415.9 53.8 L417.4 51.5 M432.9 32.7 L435.0 31.0 M455.8 26.9 L458.2 27.9 M473.4 40.8 L475.1 43.0 M486.6 60.8 L487.9 63.3 M496.8 81.2 L498.0 83.8 M506.9 104.9 L508.0 107.6 M517.1 131.3 L518.1 134.0 M525.8 155.4 L526.7 158.1 M534.3 179.6 L535.2 182.3 M542.7 203.8 L543.7 206.5 M551.4 227.9 L552.3 230.6 M560.3 251.9 L561.4 254.6 M568.9 273.2 L570.1 275.8 M584.7 306.1 L586.1 308.6 M597.5 325.6 L599.2 327.7 M614.5 339.6 L616.9 340.3 M637.7 334.6 L639.7 332.9 M652.4 317.6 L653.9 315.2 M664.1 297.2 L665.3 294.6 M674.2 275.2 L675.3 272.5 M684.4 250.1 L685.4 247.4 M693.1 226.8 L694.0 224.1 M701.7 202.5 L702.7 199.8 M708.9 181.9 L709.9 179.1 M716.8 159.3 L717.8 156.6 M724.9 136.9 L725.9 134.2 M733.2 114.6 L734.3 111.9 M742.2 92.6 L743.3 90.0 M752.0 71.2 L753.2 68.7 M763.3 50.9 L764.9 48.5 M777.6 33.4 L779.7 31.7 M803.4 27.7 L805.7 28.9 M821.1 43.4 L822.7 45.7 M832.8 61.9 L834.1 64.4 M844.4 85.7 L845.6 88.3 M853.1 106.4 L854.2 109.0 M863.2 132.9 L864.2 135.6 M871.9 156.9 L872.9 159.7 M882.0 185.8 L883.0 188.5 M890.7 210.4 L891.6 213.1 M897.9 230.4 L898.9 233.2 M907.9 257.0 L909.0 259.7 M918.0 281.1 L919.1 283.7 M929.8 305.2 L931.2 307.7 M944.3 327.1 L946.1 329.1 M964.4 340.8 L966.9 341.0 M105.1 27.5 L106.5 29.9 M118.1 49.6 L119.6 52.0 M130.1 72.5 L131.3 75.2 M139.6 97.1 L140.5 99.8 M147.5 121.0 L148.5 123.7 M156.6 149.1 L157.5 151.9 M163.8 172.6 L164.6 175.4 M172.1 200.8 L172.9 203.6 M181.7 233.6 L182.6 236.4 M189.5 257.1 L190.4 259.9 M197.8 280.6 L198.8 283.3 M207.4 308.7 L208.3 311.5 M214.9 332.2 L215.8 335.0 M223.3 355.8 L224.3 358.5 M231.5 376.6 L232.6 379.2 M241.8 400.3 L243.1 402.9 M254.9 420.4 L256.7 422.4 M272.3 436.9 L274.5 438.1 M297.9 437.9 L300.2 436.7 M313.5 426.5 L315.4 424.6 M326.1 410.2 L327.7 408.0 M338.2 392.8 L339.7 390.5 M349.8 374.9 L351.2 372.5 M360.1 356.4 L361.5 354.0 M369.4 339.4 L370.8 337.0 M380.7 320.3 L382.1 317.9 M393.0 300.6 L394.6 298.4 M405.3 284.6 L407.1 282.6 M424.6 270.0 L427.0 269.2 M446.2 270.6 L448.5 271.8 M462.0 284.1 L463.8 286.1 M475.6 303.4 L477.0 305.8 M485.9 321.9 L487.3 324.5 M496.1 342.3 L497.3 344.9 M505.2 362.7 L506.4 365.3 M514.6 384.4 L515.6 387.0 M522.8 406.0 L523.9 408.6 M532.0 426.6 L533.2 429.2 M541.3 448.3 L542.5 450.9 M551.0 469.6 L552.2 472.2 M560.2 488.3 L561.6 490.7 M571.5 506.8 L573.1 509.2 M583.7 523.9 L585.5 525.9 M599.1 539.2 L601.2 540.8 M620.5 549.1 L622.9 549.5 M647.5 544.7 L649.7 543.5 M663.0 533.3 L665.0 531.5 M679.6 515.3 L681.4 513.1 M693.1 497.8 L694.7 495.6 M706.5 478.3 L708.1 475.9 M717.9 460.8 L719.5 458.4 M730.1 442.5 L731.7 440.3 M742.8 425.3 L744.6 423.3 M757.1 410.4 L759.1 408.7 M775.0 399.6 L777.4 398.9 M788.4 398.5 L790.9 399.0 M807.7 408.0 L809.7 409.8 M821.9 423.8 L823.5 426.0 M835.8 444.8 L837.2 447.2 M846.3 462.9 L847.7 465.3 M856.6 481.9 L858.0 484.3 M866.3 500.4 L867.7 502.8 M878.7 523.1 L880.1 525.5 M890.1 544.7 L891.3 547.3 M890.9 564.2 L888.5 564.7 M860.0 566.9 L857.6 567.2 M837.3 570.1 L834.9 570.5 M807.4 573.7 L805.0 573.8 M776.5 572.4 L774.1 572.0 M755.8 568.9 L753.4 568.5 M728.0 562.5 L725.6 561.7 M718.1 543.2 L719.2 540.6 M729.1 524.5 L730.6 522.1 M739.4 508.5 L741.0 506.3 M752.6 492.2 L754.6 490.4 M771.1 477.5 L773.4 476.4 M794.7 475.4 L797.1 476.4 M814.3 488.4 L816.2 490.3 M827.3 505.6 L828.7 508.0 M836.5 524.1 L837.6 526.7 M836.1 549.2 L834.0 550.8 M809.4 557.2 L807.0 557.4 M780.6 553.7 L778.2 552.7 M768.7 545.3 L767.3 542.9 M773.0 520.6 L775.2 519.2 M796.7 519.4 L798.7 521.2 M104.5 26.6 L105.6 29.2 M115.0 51.0 L116.1 53.7 M124.6 76.1 L125.5 78.8 M132.6 101.9 L133.4 104.7 M139.2 125.7 L140.0 128.5 M146.7 153.8 L147.4 156.6 M152.5 177.3 L153.2 180.1 M158.3 200.8 L159.0 203.6 M165.2 228.9 L165.9 231.7 M173.0 257.1 L173.9 259.9 M181.5 285.2 L182.3 288.0 M188.1 308.7 L188.8 311.5 M194.2 332.2 L195.0 335.0 M200.8 355.6 L201.7 358.4 M208.1 379.2 L209.0 381.9 M216.1 402.6 L217.1 405.3 M226.1 427.5 L227.2 430.2 M237.0 452.2 L238.2 454.8 M249.9 477.8 L251.5 480.0 M264.2 494.6 L266.3 496.2 M282.6 504.9 L285.0 505.7 M306.2 503.1 L308.6 502.1 M322.9 492.1 L324.9 490.3 M338.6 476.2 L340.4 474.1 M349.8 462.5 L351.4 460.3 M360.1 448.7 L361.7 446.5 M372.8 432.5 L374.6 430.5 M388.8 414.9 L390.8 413.1 M408.3 399.2 L410.6 398.0 M436.0 395.6 L438.4 396.6 M452.7 406.9 L454.7 408.7 M465.3 422.2 L466.9 424.4 M479.1 443.2 L480.5 445.6 M491.6 465.4 L493.0 467.9 M503.6 489.0 L504.8 491.6 M511.0 506.2 L512.2 508.8 M519.9 525.4 L521.1 528.0 M529.9 551.9 L528.3 554.1 M505.9 562.6 L503.5 563.0 M481.3 566.0 L478.9 566.2 M449.6 566.2 L447.2 565.8 M423.6 559.7 L421.2 558.6 M408.4 548.6 L406.9 546.2 M412.0 524.1 L414.0 522.2 M435.1 514.3 L437.4 515.3 M105.1 28.8 L106.0 31.6 M113.3 53.8 L114.1 56.5 M120.8 79.0 L121.5 81.9 M127.5 104.6 L128.2 107.5 M133.8 130.4 L134.4 133.2 M140.2 158.5 L140.8 161.4 M145.4 182.0 L146.1 184.8 M150.7 205.4 L151.3 208.3 M157.0 233.6 L157.7 236.4 M163.8 261.7 L164.5 264.6 M169.5 285.2 L170.2 288.0 M175.3 308.7 L175.9 311.5 M182.1 336.8 L182.8 339.7 M188.2 360.3 L189.0 363.1 M194.9 383.8 L195.7 386.6 M201.9 407.2 L202.7 410.0 M208.6 430.8 L209.4 433.6 M215.9 454.3 L216.9 457.0 M226.1 479.4 L227.2 482.0 M237.8 503.6 L239.2 506.1 M251.6 524.6 L253.3 526.7 M270.2 541.2 L272.4 542.4 M296.9 546.1 L299.4 545.5 M319.7 537.2 L321.9 536.0 M338.4 523.1 L340.4 521.3 M351.7 510.8 L353.7 509.0 M368.3 494.0 L370.1 492.0 M381.6 480.5 L383.6 478.7 M399.9 467.2 L402.3 466.1 M429.8 463.7 L432.2 464.6 M446.5 473.9 L448.5 475.8 M460.3 492.0 L461.9 494.3 M471.2 509.5 L472.4 512.1 M478.5 533.5 L478.7 536.1 M104.6 27.7 L105.3 30.6 M111.3 55.0 L112.0 57.8 M118.0 82.2 L118.7 85.1 M124.5 109.5 L125.2 112.4 M130.5 137.0 L131.1 139.9 M135.7 164.7 L136.2 167.6 M140.9 192.4 L141.5 195.3 M146.2 220.0 L146.8 222.9 M151.7 247.7 L152.3 250.5 M157.6 275.8 L158.2 278.7 M162.7 299.3 L163.4 302.1 M167.4 320.4 L168.1 323.3 M172.3 341.5 L172.9 344.4 M178.1 365.0 L178.9 367.8 M185.7 393.1 L186.5 395.9 M191.9 416.6 L192.6 419.4 M197.6 440.1 L198.3 443.0 M205.9 468.4 L206.9 471.1 M216.1 493.6 L217.2 496.2 M222.6 507.8 L223.8 510.4 M231.9 526.3 L233.3 528.7 M241.7 541.7 L243.3 543.9 M255.9 558.4 L257.9 560.1 M278.5 569.4 L280.9 569.9 M307.3 568.3 L309.7 567.5 M330.0 556.9 L332.2 555.5 M346.6 544.7 L348.6 542.9 M361.9 530.1 L363.9 528.3 M377.5 515.9 L379.6 514.3 M398.6 502.3 L400.9 501.3 M426.5 502.3 L428.7 503.6 M443.0 519.6 L444.2 522.2 M104.3 26.6 L104.8 29.5 M109.3 54.3 L109.8 57.2 M114.7 81.8 L115.3 84.7 M120.7 109.2 L121.3 112.1 M126.1 136.8 L126.6 139.7 M130.8 164.5 L131.3 167.4 M135.5 192.2 L136.0 195.1 M140.2 220.0 L140.7 222.9 M145.2 247.7 L145.7 250.5 M150.8 275.8 L151.4 278.7 M155.6 299.3 L156.2 302.1 M160.4 322.7 L161.0 325.6 M164.8 343.9 L165.4 346.8 M169.6 365.0 L170.3 367.8 M175.2 388.4 L175.9 391.3 M182.0 416.6 L182.6 419.4 M187.2 440.1 L187.9 442.9 M193.4 463.5 L194.2 466.3 M200.2 483.3 L201.2 486.0 M209.8 507.5 L211.0 510.1 M218.3 527.0 L219.5 529.6 M227.3 544.7 L228.7 547.1 M239.5 561.3 L241.3 563.4" class="r"/>
</g>
<ellipse cx="475.8" cy="536.6" rx="5.2" ry="3.6" fill="#ff0000"/>
<text transform="translate(91.9,589.6) scale(1,1.07)" text-anchor="end" class="t32">0</text><text transform="translate(91.9,477.0) scale(1,1.07)" text-anchor="end" class="t32">20</text><text transform="translate(91.9,364.4) scale(1,1.07)" text-anchor="end" class="t32">40</text><text transform="translate(91.9,251.8) scale(1,1.07)" text-anchor="end" class="t32">60</text><text transform="translate(91.9,139.2) scale(1,1.07)" text-anchor="end" class="t32">80</text><text transform="translate(91.9,26.6) scale(1,1.07)" text-anchor="end" class="t32">100</text>
<text transform="translate(103.6,621.8) scale(1,1.07)" text-anchor="middle" class="t32">0</text><text transform="translate(449.2,621.8) scale(1,1.07)" text-anchor="middle" class="t32">2</text><text transform="translate(794.8,621.8) scale(1,1.07)" text-anchor="middle" class="t32">4</text>
<text transform="translate(25,289.7) rotate(-90)" text-anchor="middle" style="font-size:34.3px">Kinetic energy</text>
<text x="535.7" y="672.8" text-anchor="middle" class="sym" style="font-size:38px">θ/π</text>
<!-- mu labels -->
<text transform="translate(587.0,235.1) scale(1,1.0)" class="t21"><tspan class="sym" style="font-size:24.4px">μ</tspan>=0</text>
<text transform="translate(384.6,375.8) scale(1,1.0)" class="t21"><tspan class="sym" style="font-size:24.4px">μ</tspan>=0.1</text>
<text transform="translate(371.3,454.3) scale(1,1.0)" class="t21"><tspan class="sym" style="font-size:24.4px">μ</tspan>=0.15</text>
<text transform="translate(580.5,471.1) scale(1,1.0)" class="t21"><tspan class="sym" style="font-size:24.4px">μ</tspan>=0.05</text>
<text transform="translate(114.0,554.1) scale(1,1.0)" class="t21"><tspan class="sym" style="font-size:24.4px">μ</tspan>=0.25</text>
<text transform="translate(332.6,572.1) scale(1,1.0)" class="t21"><tspan class="sym" style="font-size:24.4px">μ</tspan>=0.2</text>
<!-- legend -->
<line x1="675" y1="311.5" x2="735" y2="311.5" stroke="#000" stroke-width="2.6"/>
<line x1="675" y1="350.7" x2="680" y2="350.7" stroke="#ff0000" stroke-width="6" stroke-linecap="round"/>
<line x1="708" y1="350.7" x2="713" y2="350.7" stroke="#ff0000" stroke-width="6" stroke-linecap="round"/>
<text x="743.5" y="320.5" style="font-size:26.8px">mv<tspan dy="7.8" style="font-size:17.7px">0</tspan><tspan dy="-18.5" style="font-size:29.5px">2</tspan><tspan dy="10.7">/2+W</tspan></text>
<text x="743" y="360.6" style="font-size:26.8px">E<tspan dy="6.6" style="font-size:20px">k</tspan></text>
</svg>
</body></html>
